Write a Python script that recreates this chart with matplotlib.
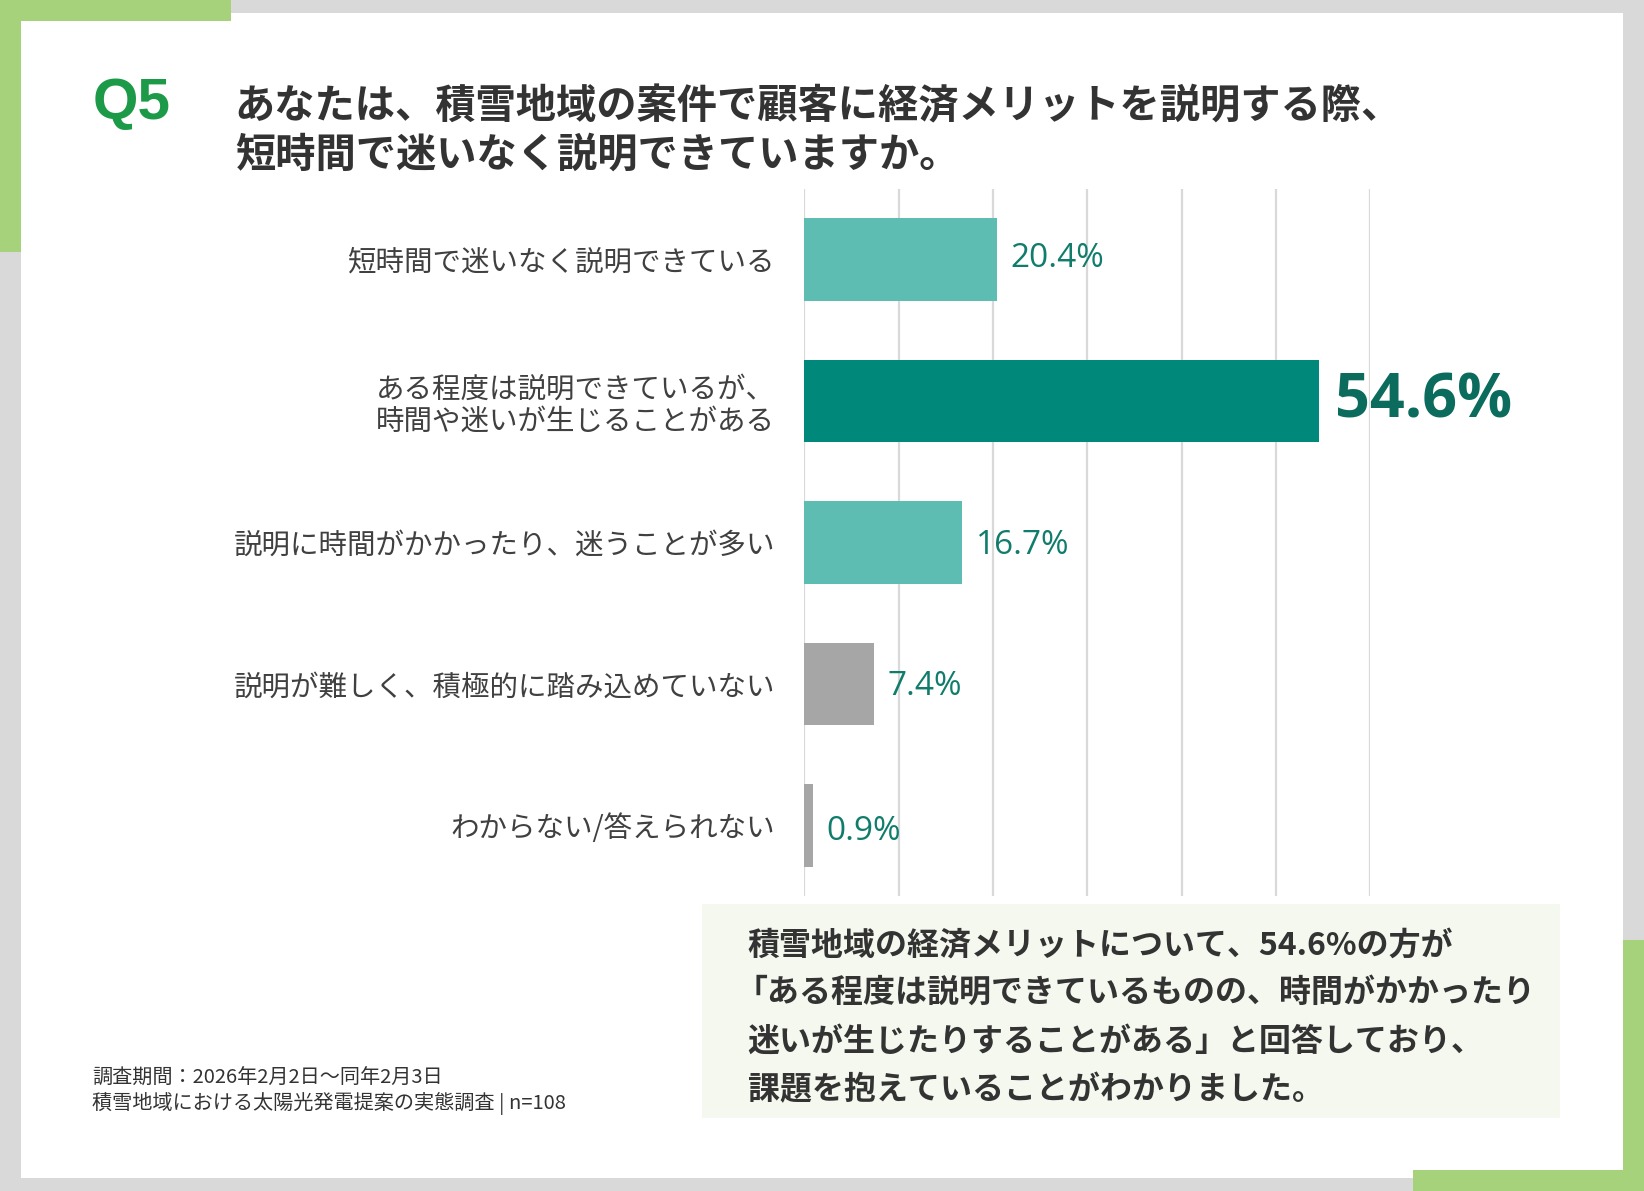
import matplotlib
matplotlib.use("Agg")
import matplotlib.pyplot as plt
from matplotlib.patches import Rectangle

plt.rcParams['font.family'] = ['Noto Sans CJK JP', 'DejaVu Sans']

# ---- data ----
categories = [
    "短時間で迷いなく説明できている",
    "ある程度は説明できているが、\n時間や迷いが生じることがある",
    "説明に時間がかかったり、迷うことが多い",
    "説明が難しく、積極的に踏み込めていない",
    "わからない/答えられない",
]
values = [20.4, 54.6, 16.7, 7.4, 0.9]
value_labels = ["20.4%", "54.6%", "16.7%", "7.4%", "0.9%"]
bar_colors = ["#5dbdb3", "#00897a", "#5dbdb3", "#a6a6a6", "#a6a6a6"]
x_ticks = [0, 10, 20, 30, 40, 50, 60]

q_label = "Q5"
title_text = "あなたは、積雪地域の案件で顧客に経済メリットを説明する際、\n短時間で迷いなく説明できていますか。"
summary_lines = [
    "積雪地域の経済メリットについて、54.6%の方が",
    "「ある程度は説明できているものの、時間がかかったり",
    "迷いが生じたりすることがある」と回答しており、",
    "課題を抱えていることがわかりました。",
]
footer_lines = [
    "調査期間：2026年2月2日～同年2月3日",
    "積雪地域における太陽光発電提案の実態調査 | n=108",
]

# ---- figure ----
W, H = 1568.0, 1136.0  # layout reference units
fig = plt.figure(figsize=(16.44, 11.91), dpi=100)
fig.patch.set_facecolor("#d9d9d9")

def fx(x):
    return x / W

def fy(y):
    return 1 - y / H

def rect(x0, y0, x1, y1, color, z=0):
    fig.add_artist(Rectangle((fx(x0), fy(y1)), fx(x1) - fx(x0), fy(y0) - fy(y1),
                             transform=fig.transFigure, facecolor=color,
                             edgecolor="none", zorder=z))

GREEN = "#a5d27a"
rect(20, 12, 1548, 1124, "white", z=0)
rect(0, 0, 220, 20, GREEN, z=1)
rect(0, 0, 20, 240, GREEN, z=1)
rect(1548, 897, 1568, 1136, GREEN, z=1)
rect(1348, 1116, 1568, 1136, GREEN, z=1)

# summary box
rect(670, 862, 1488, 1066, "#f4f8ee", z=1)

# ---- titles ----
fig.text(fx(88), fy(99), q_label, fontsize=42, fontweight="bold", color="#1d9a48",
         family=["Liberation Sans", "DejaVu Sans"], va="center", ha="left")
fig.text(fx(224), fy(125), title_text, fontsize=29, fontweight="bold", color="#333333",
         va="center", ha="left", linespacing=1.25)

# ---- chart ----
ax = fig.add_axes([fx(767), fy(855), fx(1307) - fx(767), fy(180) - fy(855)])
ax.set_facecolor("none")
ypos = list(range(len(categories)))
ax.barh(ypos, values, height=0.585, color=bar_colors, zorder=3)
ax.set_xlim(x_ticks[0], x_ticks[-1])
ax.set_ylim(len(categories) - 0.5, -0.5)
ax.set_xticks(x_ticks)
ax.xaxis.grid(True, color="#d9d9d9", linewidth=1.6, zorder=0)
ax.tick_params(axis="x", length=0, labelbottom=False)
ax.tick_params(axis="y", length=0, pad=21)
ax.set_yticks(ypos)
ax.set_yticklabels(categories, fontsize=20.5, color="#404040", linespacing=1.1)
for lbl in ax.get_yticklabels():
    if "\n" in lbl.get_text():
        lbl.set_y(lbl.get_position()[1])
for s in ax.spines.values():
    s.set_visible(False)

v_offsets = [1, -1, -2, -2, -4]
for i, (v, lab) in enumerate(zip(values, value_labels)):
    if i == 1:
        ax.annotate(lab, (v, i), xytext=(11, v_offsets[i]), textcoords="offset points",
                    fontsize=44, fontweight="bold", color="#0b6b5c",
                    family=["Open Sans", "DejaVu Sans"], va="center", ha="left",
                    annotation_clip=False)
    else:
        ax.annotate(lab, (v, i), xytext=(10, v_offsets[i]), textcoords="offset points",
                    fontsize=24, color="#107c6c",
                    family=["Open Sans", "DejaVu Sans"], va="center", ha="left",
                    annotation_clip=False)

# ---- summary text ----
ys = [902, 947, 994, 1040]
for line, yy in zip(summary_lines, ys):
    xx = 702 if line.startswith("「") else 713
    fig.text(fx(xx), fy(yy), line, fontsize=23, fontweight="bold", color="#333333",
             va="center", ha="left", zorder=3)

# ---- footer ----
fig.text(fx(88), fy(1029), footer_lines[0], fontsize=14.5, color="#333333",
         va="center", ha="left")
fig.text(fx(88), fy(1053), footer_lines[1], fontsize=14.5, color="#333333",
         va="center", ha="left")

fig.savefig("out.png", dpi=100, facecolor=fig.get_facecolor())
